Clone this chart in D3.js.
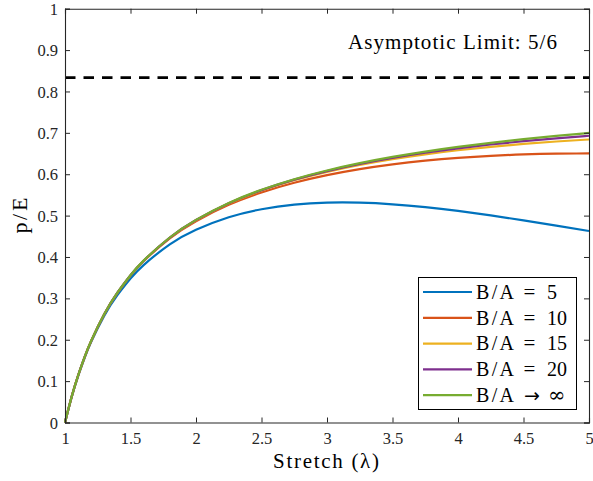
<!DOCTYPE html>
<html><head><meta charset="utf-8">
<script src="https://cdn.jsdelivr.net/npm/d3@7"></script>
<style>body{margin:0;background:#fff}svg{display:block}</style>
</head><body><div id="chart"></div>
<script>
const stretch = [1,1.05,1.1,1.15,1.2,1.3,1.4,1.5,1.6,1.8,2,2.25,2.5,2.75,3,3.25,3.5,3.75,4,4.25,4.5,4.75,5];
const ba5   = [0,0.060735,0.112263,0.156486,0.194827,0.257938,0.307636,0.347667,0.380471,0.430492,0.465904,0.496191,0.5154,0.526444,0.531236,0.53115,0.527249,0.520385,0.511272,0.500501,0.488566,0.475868,0.462737];
const ba10  = [0,0.061225,0.11329,0.1581,0.197078,0.261625,0.312984,0.354913,0.389863,0.444948,0.486492,0.52596,0.555987,0.579353,0.597766,0.612336,0.623821,0.632755,0.639537,0.644461,0.647762,0.649624,0.650203];
const ba15  = [0,0.061274,0.113393,0.158262,0.197305,0.261999,0.313528,0.355654,0.390828,0.446451,0.488663,0.52917,0.560482,0.585402,0.605653,0.622362,0.636294,0.647993,0.657858,0.666183,0.673194,0.679064,0.683933];
const ba20  = [0,0.061286,0.113419,0.158302,0.197361,0.262091,0.313661,0.355835,0.391063,0.446818,0.489194,0.529958,0.561589,0.586897,0.607613,0.624866,0.639431,0.651855,0.66254,0.671786,0.679824,0.686828,0.69294];
const baInf = [0,0.061295,0.113437,0.158331,0.197401,0.262157,0.313758,0.355967,0.391235,0.447086,0.489583,0.530534,0.5624,0.587995,0.609053,0.626711,0.641746,0.654712,0.666015,0.675959,0.684779,0.692655,0.699733];
const seriesNames = ["B/A = 5","B/A = 10","B/A = 15","B/A = 20","B/A \u2192 \u221E"];
const seriesValues = [ba5, ba10, ba15, ba20, baInf];
const colors = ["#0072BD","#D95319","#EDB120","#7E2F8E","#77AC30"];
const xTicks = [1,1.5,2,2.5,3,3.5,4,4.5,5];
const yTicks = [0,0.1,0.2,0.3,0.4,0.5,0.6,0.7,0.8,0.9,1];
const asymptote = 5/6;
const asymptoteLabel = "Asymptotic Limit: 5/6";
const xLabel = "Stretch (\u03BB)";
const yLabel = "p/E";

const FONT = "'Liberation Serif', 'Times New Roman', 'DejaVu Serif', serif";
const W = 593, H = 481;
const m = {left:65, right:4, top:8.7, bottom:58.5};
const svg = d3.select("#chart").append("svg").attr("width",W).attr("height",H);
const x = d3.scaleLinear().domain([1,5]).range([m.left, W-m.right]);
const y = d3.scaleLinear().domain([0,1]).range([H-m.bottom, m.top]);
const axisColor = "#262626";

// series
const line = d3.line().x((d,i)=>x(stretch[i])).y(d=>y(d)).curve(d3.curveNatural);
seriesValues.forEach((vals,k)=>{
  svg.append("path").datum(vals).attr("d",line).attr("fill","none")
    .attr("stroke",colors[k]).attr("stroke-width",2.2);
});
// asymptote
svg.append("line").attr("x1",x(1)).attr("x2",x(5)).attr("y1",y(asymptote)).attr("y2",y(asymptote))
  .attr("stroke","#000").attr("stroke-width",2.6).attr("stroke-dasharray","10.5,8");

// axes
const gB = svg.append("g").attr("transform",`translate(0,${y(0)})`)
  .call(d3.axisBottom(x).tickValues(xTicks).tickSize(-5).tickPadding(10).tickFormat(d=>String(d)));
const gT = svg.append("g").attr("transform",`translate(0,${y(1)})`)
  .call(d3.axisTop(x).tickValues(xTicks).tickSize(-5).tickFormat(""));
const gL = svg.append("g").attr("transform",`translate(${x(1)},0)`)
  .call(d3.axisLeft(y).tickValues(yTicks).tickSize(-5).tickPadding(7).tickFormat(d=>String(+d.toFixed(1))));
const gR = svg.append("g").attr("transform",`translate(${x(5)},0)`)
  .call(d3.axisRight(y).tickValues(yTicks).tickSize(-5).tickFormat(""));
[gB,gT,gL,gR].forEach(g=>{
  g.attr("font-family",null).attr("font-size",null);
  g.select(".domain").attr("stroke",axisColor).attr("stroke-width",1.1);
  g.selectAll(".tick line").attr("stroke",axisColor).attr("stroke-width",1);
  g.selectAll("text").style("font-family",FONT).style("font-size","16.5px").attr("fill","#262626");
});
gB.selectAll("text").attr("dy","0.71em");
gL.selectAll("text").attr("dy","0.34em");

// labels
svg.append("text").attr("x",273).attr("y",468)
  .attr("textLength",106).attr("lengthAdjust","spacing")
  .style("font-family",FONT).style("font-size","21px").text(xLabel);
svg.append("text").attr("transform",`translate(27,${(y(0)+y(1))/2 + 18}) rotate(-90)`)
  .attr("textLength",36).attr("lengthAdjust","spacing")
  .style("font-family",FONT).style("font-size","22px").text(yLabel);
svg.append("text").attr("x",348).attr("y",48.5)
  .attr("textLength",209).attr("lengthAdjust","spacing")
  .style("font-family",FONT).style("font-size","21px").text(asymptoteLabel);

// legend: each entry split into lhs / operator / rhs, placed like LaTeX math spacing
const lg = svg.append("g");
lg.append("rect").attr("x",418.5).attr("y",277.5).attr("width",158).attr("height",132)
  .attr("fill","#fff").attr("stroke","#000").attr("stroke-width",1);
seriesNames.forEach((n,k)=>{
  const [lhs, op, rhs] = n.split(" ");
  const cy = 292 + k*25.8;
  lg.append("line").attr("x1",423).attr("x2",472).attr("y1",cy).attr("y2",cy)
    .attr("stroke",colors[k]).attr("stroke-width",2.2);
  const t = lg.append("text").attr("y",cy).attr("dy","0.34em")
    .style("font-family",FONT).style("font-size","20px");
  t.append("tspan").attr("x",476).attr("textLength",38).attr("lengthAdjust","spacing").text(lhs);
  if (op === "=") {
    t.append("tspan").attr("x",529.5).attr("text-anchor","middle").style("font-size","21px").text(op);
    t.append("tspan").attr("x",547).text(rhs);
  } else {
    t.append("tspan").attr("x",532).attr("text-anchor","middle").style("font-family","'DejaVu Sans', sans-serif").style("font-size","19px").text(op);
    t.append("tspan").attr("x",548).style("font-family","'DejaVu Serif', serif").style("font-size","21px").text(rhs);
  }
});
</script></body></html>
